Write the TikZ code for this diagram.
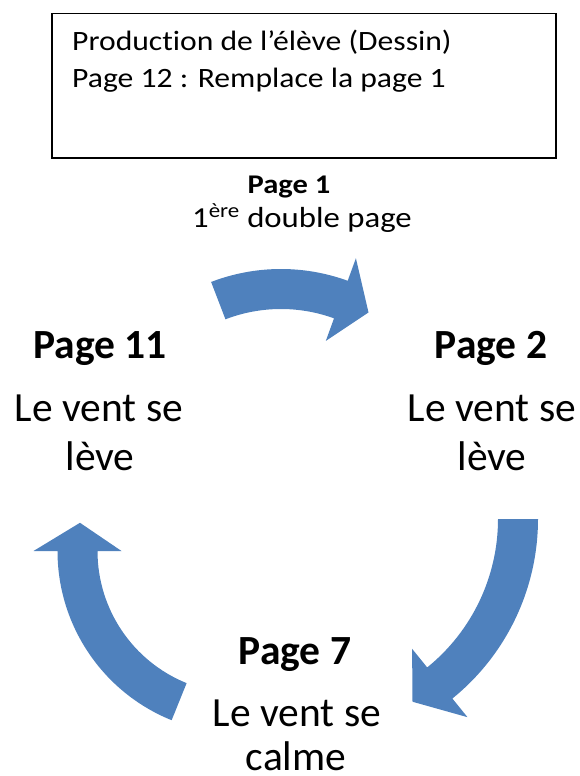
\documentclass[tikz,border=0pt]{standalone}
\usepackage{fontspec}
\setmainfont{Carlito}[Ligatures=NoCommon]
\newfontfamily\cadrefont[FakeStretch=1.13, Ligatures=NoCommon]{Carlito}
\usetikzlibrary{positioning}

\definecolor{flecheBleu}{HTML}{4F81BD}

\tikzset{
  titre/.style={font=\bfseries\fontsize{41.5}{50}\selectfont, anchor=base, inner sep=0pt},
  texte/.style={font=\fontsize{41.5}{50}\selectfont, anchor=base, inner sep=0pt},
  petit/.style={font=\cadrefont\fontsize{28}{37}\selectfont, anchor=base west, inner sep=0pt},
}

% centre x, centre y, rayon, angle debut, angle base, angle pointe
\newcommand{\flechecycle}[6]{%
  \fill[flecheBleu, shift={(#1,#2)}] ({#4}:{#3+20}) arc[start angle=#4, end angle=#5, radius=#3+20]
    -- ({#5}:{#3+44}) -- ({#6}:{#3}) -- ({#5}:{#3-44}) -- ({#5}:{#3-20})
    arc[start angle=#5, end angle=#4, radius=#3-20] -- cycle;
}

\begin{document}
\begin{tikzpicture}[x=1pt, y=-1pt]
  \useasboundingbox (0,0) rectangle (579,776);

  % cadre du haut
  \node[draw, line width=1.5pt, minimum width=504, minimum height=144, anchor=north west, inner sep=0pt] (cadre) at (51,13) {};
  \node[petit] (prod) at (72,51) {Production de l’élève (Dessin)};
  \node[petit] (rempl) at (72,87) {Page 12 : Remplace la page 1};

  % page 1
  \node[font=\cadrefont\bfseries\fontsize{27}{32}\selectfont, anchor=base, inner sep=0pt] (p1) at (289,193) {Page 1};
  \node[font=\cadrefont\fontsize{29}{34}\selectfont, anchor=base, inner sep=0pt] (p1b) at (302,227) {1\textsuperscript{ère} double page};

  % page 2
  \node[titre] (p2) at (491,358) {Page 2};
  \node[texte] (p2a) at (492,421) {Le vent se};
  \node[texte] (p2b) at (492,470) {lève};

  % page 7
  \node[titre] (p7) at (295,664) {Page 7};
  \node[texte] (p7a) at (297,726) {Le vent se};
  \node[texte] (p7b) at (296,770) {calme};

  % page 11
  \node[titre] (p11) at (100,358) {Page 11};
  \node[texte] (p11a) at (99,421) {Le vent se};
  \node[texte] (p11b) at (100,470) {lève};

  % fleches du cycle
  \flechecycle{281}{464}{175}{249}{290}{300}
  \flechecycle{307}{519}{211}{0}{51}{60}
  \flechecycle{240}{551}{162.5}{112}{180}{190}
\end{tikzpicture}
\end{document}
